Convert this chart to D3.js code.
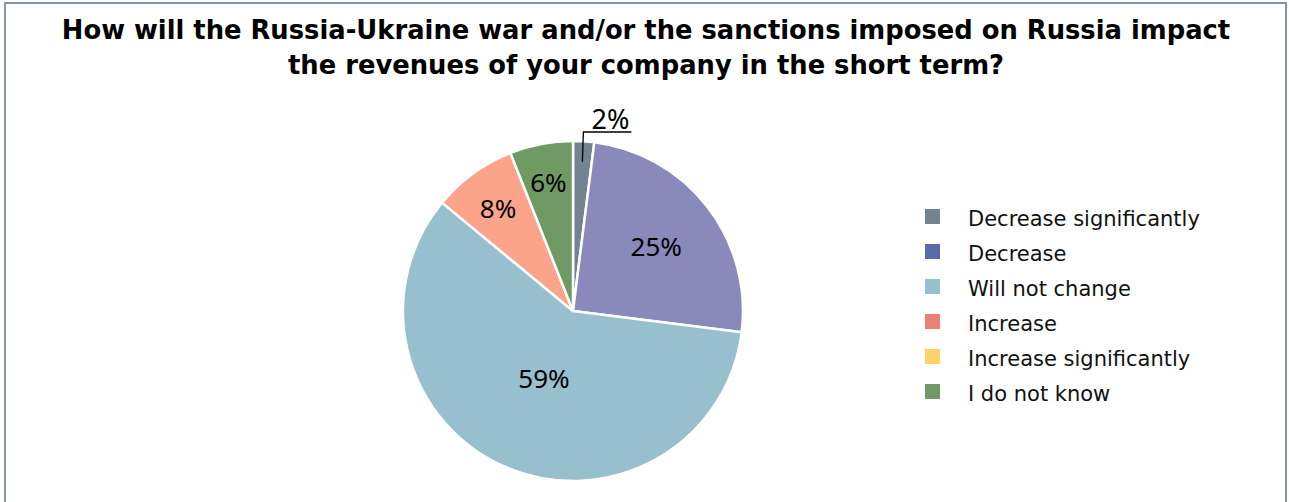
<!DOCTYPE html>
<html>
<head>
<meta charset="utf-8">
<script src="https://cdn.jsdelivr.net/npm/d3@7"></script>
<style>
  html, body { margin: 0; padding: 0; background: #ffffff; }
  svg { display: block; }
</style>
</head>
<body>
<svg id="chart" width="1289" height="502"></svg>
<script>
// Survey answers, in drawing order (clockwise from 12 o'clock)
const categories = ["Decrease significantly", "Decrease", "Will not change", "Increase", "Increase significantly", "I do not know"];
const shares = [2, 25, 59, 8, 0, 6];
const sliceColors = ["#748391", "#8a89bb", "#98bfcd", "#fca48b", "#fdd267", "#6f9a63"];
const legendColors = ["#748391", "#5b69a8", "#98bfcd", "#e98179", "#fdd267", "#6f9a63"];
// Radial placement of each in-slice percentage label (fraction of radius)
const labelRadius = [0, 0.62, 0.43, 0.75, 0, 0.77];

const titleLines = [
  "How will the Russia-Ukraine war and/or the sanctions imposed on Russia impact",
  "the revenues of your company in the short term?"
];

const svg = d3.select("#chart");
const W = 1289, H = 502;

// outer frame (open at the bottom edge of the view)
svg.append("rect")
  .attr("x", 5).attr("y", 3)
  .attr("width", W - 8).attr("height", H + 10)
  .attr("fill", "#ffffff")
  .attr("stroke", "#8794a1")
  .attr("stroke-width", 2);

// title
svg.append("g").selectAll("text")
  .data(titleLines)
  .join("text")
  .attr("x", 646)
  .attr("y", (d, i) => 39 + i * 35)
  .attr("text-anchor", "middle")
  .attr("font-family", "DejaVu Sans")
  .attr("font-weight", "bold")
  .attr("font-size", 25.8)
  .attr("fill", "#000")
  .text(d => d);

// pie
const cx = 573, cy = 311, r = 170;
const data = categories.map((c, i) => ({ cat: c, value: shares[i], i }));
const pie = d3.pie().sort(null).value(d => d.value);
const arcs = pie(data);
const arc = d3.arc().innerRadius(0).outerRadius(r);

const g = svg.append("g").attr("transform", `translate(${cx},${cy})`);
g.selectAll("path")
  .data(arcs.filter(a => a.data.value > 0))
  .join("path")
  .attr("d", arc)
  .attr("fill", d => sliceColors[d.data.i])
  .attr("stroke", "#ffffff")
  .attr("stroke-width", 2.5)
  .attr("stroke-linejoin", "round");

// in-slice labels
const inside = arcs.filter(a => a.data.value > 0 && labelRadius[a.data.i] > 0);
g.selectAll("text.pct")
  .data(inside)
  .join("text")
  .attr("class", "pct")
  .attr("transform", d => {
    const c = d3.arc().innerRadius(r * labelRadius[d.data.i]).outerRadius(r * labelRadius[d.data.i]).centroid(d);
    return `translate(${c[0]},${c[1]})`;
  })
  .attr("text-anchor", "middle")
  .attr("dominant-baseline", "central")
  .attr("font-family", "Noto Sans")
  .attr("font-size", 26)
  .attr("fill", "#000")
  .text(d => d.data.value + "%");

// small slice label with leader line
const small = arcs[0];
const anchor = d3.arc().innerRadius(r * 0.88).outerRadius(r * 0.88).centroid(small);
const elbowY = -r - 9;
g.append("path")
  .attr("d", `M${anchor[0]},${anchor[1]} L${anchor[0] + 1},${elbowY} L${anchor[0] + 49},${elbowY}`)
  .attr("fill", "none")
  .attr("stroke", "#000")
  .attr("stroke-width", 1.3);
g.append("text")
  .attr("x", anchor[0] + 28)
  .attr("y", elbowY - 3)
  .attr("text-anchor", "middle")
  .attr("font-family", "Noto Sans")
  .attr("font-size", 27)
  .attr("fill", "#000")
  .text(small.data.value + "%");

// legend
const legend = svg.append("g").attr("transform", "translate(925,219)");
const rows = legend.selectAll("g")
  .data(categories)
  .join("g")
  .attr("transform", (d, i) => `translate(0,${i * 35})`);
rows.append("rect")
  .attr("x", 0).attr("y", -10)
  .attr("width", 15).attr("height", 15)
  .attr("fill", (d, i) => legendColors[i]);
rows.append("text")
  .attr("x", 43).attr("y", 0)
  .attr("dominant-baseline", "central")
  .attr("font-family", "DejaVu Sans")
  .attr("font-size", 21)
  .attr("fill", "#111")
  .text(d => d);
</script>
</body>
</html>
